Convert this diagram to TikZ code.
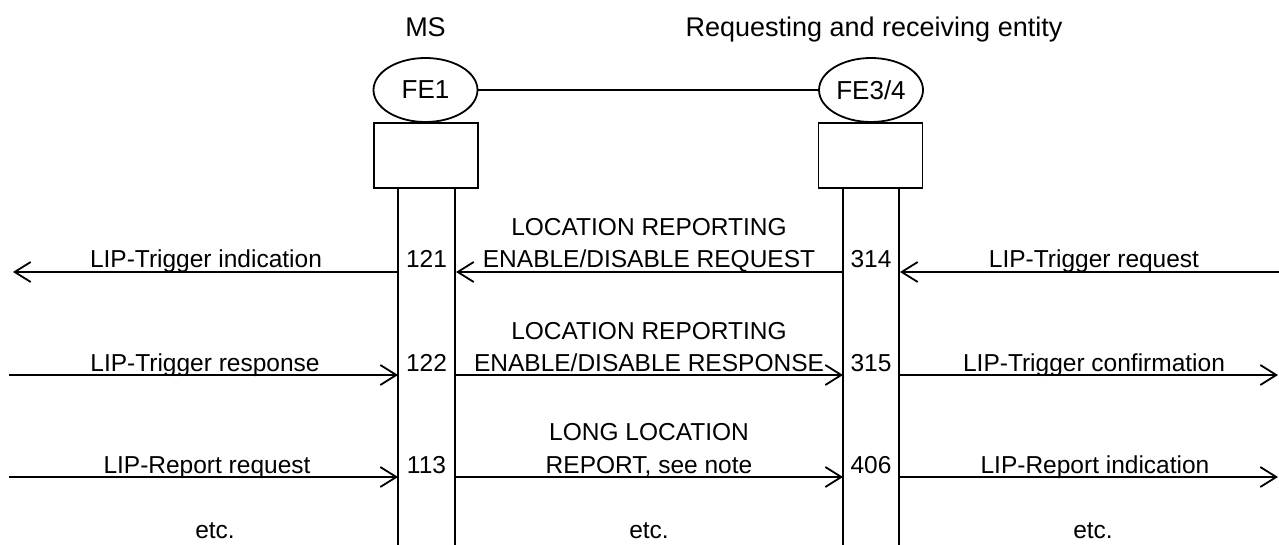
\documentclass[tikz,border=0pt]{standalone}
\usepackage{fontspec}
\setmainfont{Liberation Sans}
\usetikzlibrary{arrows.meta,shapes.geometric}
\begin{document}
\begin{tikzpicture}[x=1pt,y=-1pt,line width=1.8pt,
  lbl/.style={anchor=base,inner sep=0pt,font=\fontsize{24.5}{29}\selectfont},
  hdr/.style={anchor=base,inner sep=0pt,font=\fontsize{27}{31}\selectfont},
  fe/.style={ellipse,draw,inner sep=0pt,minimum width=104pt,minimum height=64pt,font=\fontsize{26}{30}\selectfont},
  febox/.style={draw,inner sep=0pt,minimum width=104pt,minimum height=65pt},
  msg/.style={-{Straight Barb[length=16pt,width=20pt]}}]
\useasboundingbox (0,0) rectangle (1279,545);

% headers
\node[hdr] (ms) at (425.5,37) {MS};
\node[hdr] (rre) at (874,37) {Requesting and receiving entity};

% functional entities
\node[fe] (fe1) at (425.5,90) {FE1};
\node[fe] (fe34) at (871,90) {FE3/4};
\draw (fe1) -- (fe34);
\node[febox] (box1) at (426,155.5) {};
\node[febox] (box2) at (870.5,155.5) {};

% lifelines
\coordinate (t1) at (398,188); \coordinate (b1) at (398,546);
\coordinate (t2) at (455,188); \coordinate (b2) at (455,546);
\coordinate (t3) at (843,188); \coordinate (b3) at (843,546);
\coordinate (t4) at (899,188); \coordinate (b4) at (899,546);
\draw (t1) -- (b1); \draw (t2) -- (b2); \draw (t3) -- (b3); \draw (t4) -- (b4);

% row 1
\coordinate (L1) at (13,272); \coordinate (A1) at (398,272);
\coordinate (B1) at (456,272); \coordinate (C1) at (843,272);
\coordinate (D1) at (900,272); \coordinate (R1) at (1280,272);
\draw[msg] (A1) -- (L1);
\draw[msg] (C1) -- (B1);
\draw[msg] (R1) -- (D1);
\node[lbl] (m1a) at (206,268) {LIP-Trigger indication};
\node[lbl] (n121) at (426.5,268) {121};
\node[lbl] (m1b1) at (649,236) {LOCATION REPORTING};
\node[lbl] (m1b2) at (649,268) {ENABLE/DISABLE REQUEST};
\node[lbl] (n314) at (871,268) {314};
\node[lbl] (m1c) at (1094,268) {LIP-Trigger request};

% row 2
\coordinate (L2) at (9,375); \coordinate (A2) at (398,375);
\coordinate (B2) at (455,375); \coordinate (C2) at (843,375);
\coordinate (D2) at (899,375); \coordinate (R2) at (1278,375);
\draw[msg] (L2) -- (A2);
\draw[msg] (B2) -- (C2);
\draw[msg] (D2) -- (R2);
\node[lbl] (m2a) at (205,371) {LIP-Trigger response};
\node[lbl] (n122) at (426.5,371) {122};
\node[lbl] (m2b1) at (649,339) {LOCATION REPORTING};
\node[lbl] (m2b2) at (649,371) {ENABLE/DISABLE RESPONSE};
\node[lbl] (n315) at (871,371) {315};
\node[lbl] (m2c) at (1094,371) {LIP-Trigger confirmation};

% row 3
\coordinate (L3) at (9,477); \coordinate (A3) at (398,477);
\coordinate (B3) at (455,477); \coordinate (C3) at (843,477);
\coordinate (D3) at (899,477); \coordinate (R3) at (1278,477);
\draw[msg] (L3) -- (A3);
\draw[msg] (B3) -- (C3);
\draw[msg] (D3) -- (R3);
\node[lbl] (m3a) at (207,473) {LIP-Report request};
\node[lbl] (n113) at (426.5,473) {113};
\node[lbl] (m3b1) at (649,440) {LONG LOCATION};
\node[lbl] (m3b2) at (649,473) {REPORT, see note};
\node[lbl] (n406) at (871,473) {406};
\node[lbl] (m3c) at (1095,473) {LIP-Report indication};

% etc.
\node[lbl] (e1) at (215,538) {etc.};
\node[lbl] (e2) at (649,538) {etc.};
\node[lbl] (e3) at (1093,538) {etc.};
\end{tikzpicture}
\end{document}
